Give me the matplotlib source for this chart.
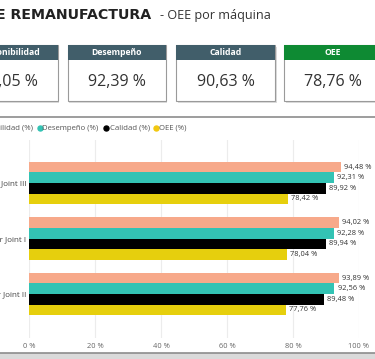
import matplotlib
matplotlib.use("Agg")
import matplotlib.pyplot as plt
from matplotlib.patches import Rectangle
from matplotlib.lines import Line2D

W, H = 375, 359

# ---- data ----
machines = ["Soldador Joint III", "Soldador Joint I", "Soldador Joint II"]
series_names = ["Disponibilidad (%)", "Desempeño (%)", "Calidad (%)", "OEE (%)"]
disponibilidad = [94.48, 94.02, 93.89]
desempeno = [92.31, 92.28, 92.56]
calidad = [89.92, 89.94, 89.48]
oee = [78.42, 78.04, 77.76]
kpi_titles = ["Disponibilidad", "Desempeño", "Calidad", "OEE"]
kpi_values = ["94,05 %", "92,39 %", "90,63 %", "78,76 %"]
xticks = [0, 20, 40, 60, 80, 100]

colors = ["#F7A98A", "#33C3B4", "#000000", "#E6CF0D"]
legend_colors = ["#F7A98A", "#33C3B4", "#000000", "#F2C80F"]

plt.rcParams['font.family'] = ['Open Sans', 'DejaVu Sans']

fig = plt.figure(figsize=(W / 100, H / 100), dpi=100)
fig.patch.set_facecolor("white")

def fx(x):
    return x / W

def fy(y):
    return 1 - y / H

# ---- title ----
fig.text(fx(151.5), fy(15), "LÍNEA DE REMANUFACTURA", ha="right", va="center",
         fontsize=10.2, fontweight="bold", family=["DejaVu Sans"], color="#222222")
fig.text(fx(160.5), fy(15.5), "- OEE por máquina", ha="left", va="center",
         fontsize=9.1, family=["Open Sans", "DejaVu Sans"], color="#333333")

# ---- KPI cards ----
cards = [(-40, 58), (67.5, 165.5), (176, 275), (284, 382)]
header_cols = ["#415E6A", "#415E6A", "#415E6A", "#0E8A33"]
top, hdr_bot, bot = 45, 60, 100.5
for (x0, x1), t, v, hc in zip(cards, kpi_titles, kpi_values, header_cols):
    # shadow
    fig.patches.append(Rectangle((fx(x0 + 1.5), fy(bot + 2)), fx(x1 - x0), (bot - top) / H,
                                 transform=fig.transFigure, facecolor="#dcdcdc", edgecolor="none", zorder=1))
    fig.patches.append(Rectangle((fx(x0), fy(bot)), fx(x1 - x0), (bot - top) / H,
                                 transform=fig.transFigure, facecolor="white", edgecolor="#9a9a9a",
                                 linewidth=0.8, zorder=2))
    fig.patches.append(Rectangle((fx(x0), fy(hdr_bot)), fx(x1 - x0), (hdr_bot - top) / H,
                                 transform=fig.transFigure, facecolor=hc, edgecolor="none", zorder=3))
    cx = (x0 + x1) / 2
    fig.text(fx(cx), fy(52.5), t, ha="center", va="center", fontsize=6.2, fontweight="bold",
             color="white", zorder=4)
    fig.text(fx(cx), fy(82), v, ha="center", va="center", fontsize=11.5,
             color="#333333", zorder=4)

# ---- panel borders ----
fig.lines.append(Line2D([0, 1], [fy(117.5), fy(117.5)], transform=fig.transFigure,
                        color="#8c8c8c", linewidth=1.2))
fig.patches.append(Rectangle((0, 0), 1, (H - 352.5) / H, transform=fig.transFigure,
                             facecolor="#dadada", edgecolor="none", zorder=0))
fig.lines.append(Line2D([0, 1], [fy(352.5), fy(352.5)], transform=fig.transFigure,
                        color="#8c8c8c", linewidth=1.2))

# ---- legend ----
leg_y = fy(128.5)
fig.text(fx(33.5), leg_y, series_names[0], ha="right", va="center", fontsize=5.6, color="#555555")
leg_items = [(39.5, 42.5, 1), (106, 109.5, 2), (155.5, 159, 3)]
for xd, xt, k in leg_items:
    fig.lines.append(Line2D([fx(xd)], [leg_y], marker="o", markersize=3.6, color=legend_colors[k],
                            transform=fig.transFigure, linestyle="none"))
    fig.text(fx(xt), leg_y, series_names[k], ha="left", va="center", fontsize=5.6, color="#555555")

# ---- bar chart ----
ax = fig.add_axes([fx(29), fy(338), 330 / W, 198 / H])
ax.set_facecolor("none")
series = [disponibilidad, desempeno, calidad, oee]
bh = 0.19
n = len(machines)
for k, vals in enumerate(series):
    ys = [i + (k - 1.5) * bh for i in range(n)]
    ax.barh(ys, vals, height=bh, color=colors[k], zorder=3)
    for y, v in zip(ys, vals):
        ax.annotate(f"{v:.2f} %".replace(".", ","), (v, y), xytext=(2.2, 0), textcoords="offset points",
                    ha="left", va="center", fontsize=5.4, color="#333333", zorder=4)

ax.set_xlim(0, 100)
ax.set_ylim(-0.775 + 198 / 55.5, -0.775)
ax.set_xticks(xticks)
ax.set_xticklabels([f"{t} %" for t in xticks])
ax.set_yticks(range(n))
ax.set_yticklabels(machines)
ax.tick_params(axis="both", length=0, labelsize=5.4, colors="#666666")
ax.tick_params(axis="x", pad=3.5)
ax.tick_params(axis="y", pad=2, labelcolor="#444444", labelsize=5.8)
ax.grid(axis="x", color="#ececec", linewidth=0.8, zorder=0)
for s in ax.spines.values():
    s.set_visible(False)

fig.savefig("out.png", dpi=100)
